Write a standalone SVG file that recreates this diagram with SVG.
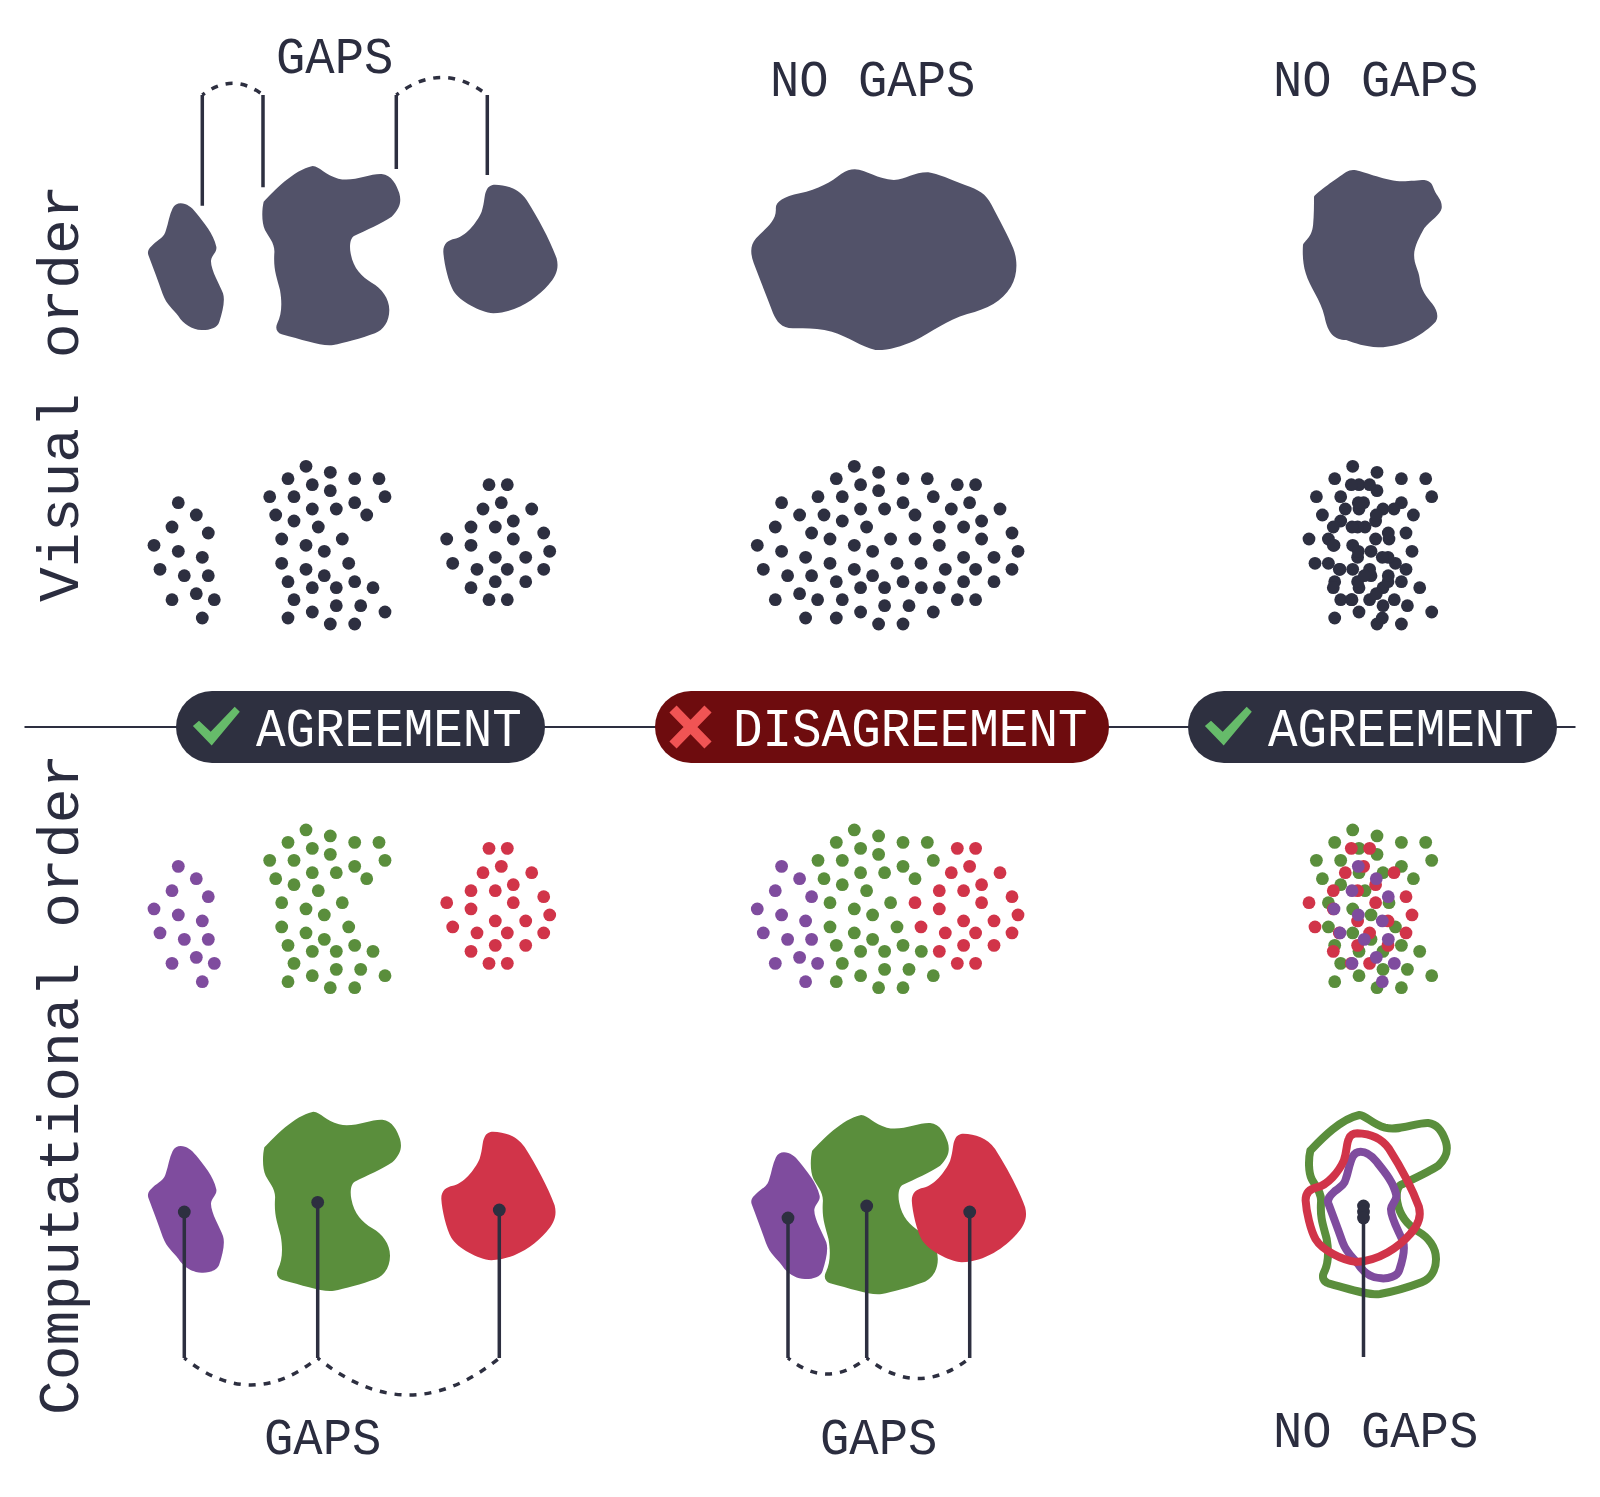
<svg xmlns="http://www.w3.org/2000/svg" width="1600" height="1497" viewBox="0 0 1600 1497">
<style>
text{font-family:"Liberation Mono","DejaVu Sans Mono",monospace;fill:#2b2d3f}
circle{r:6.4px}
.side{font-size:58px}
.lab{font-size:52px}
.pilltext{font-size:54px;fill:#fff}
.dark{fill:#2d2f40}.slate{fill:#525269}
.pur{fill:#7f4c9e}.grn{fill:#5a8e3c}.red{fill:#d13449}
.opur,.ogrn,.ored{fill:none;stroke-width:24}
.opur{stroke:#7f4c9e}.ogrn{stroke:#5a8e3c}.ored{stroke:#d13449}
.stem{stroke:#2d2f40;stroke-width:3.5;fill:none}
.dash{stroke:#2d2f40;stroke-width:3.5;fill:none;stroke-dasharray:7 8;stroke-dashoffset:4}
.axis{stroke:#2d2f40;stroke-width:2}
</style>
<defs>
<path id="blob-a" d="M152 550C170 550 185 562 198 578C222 608 250 640 259 680C262 696 245 705 243 722C242 750 270 795 279 820C286 840 278 875 268 905C262 925 235 931 215 930C185 929 160 912 145 888C130 868 110 855 98 822C85 785 70 745 55 705C50 690 62 680 75 668C92 655 103 650 108 630C115 610 118 585 128 565C133 555 142 550 152 550Z"/>
<path id="blob-b" d="M548 438C570 440 585 465 625 476C670 487 720 460 755 462C785 465 800 495 808 520C815 545 810 565 785 590C755 610 710 630 672 648C660 655 658 680 662 700C670 745 695 770 725 788C755 805 778 835 778 870C778 905 760 930 735 940C695 955 640 970 610 975C575 980 520 960 455 943C440 938 435 925 442 910C455 885 457 850 450 810C440 770 430 750 433 700C436 670 415 650 405 630C395 610 395 570 401 545C430 515 490 450 548 438Z"/>
<path id="blob-c" d="M1095 494C1130 495 1165 505 1190 540C1225 595 1260 660 1280 715C1288 745 1278 770 1255 795C1220 835 1160 878 1090 880C1050 875 990 845 970 812C955 785 942 730 940 695C940 670 955 660 975 656C1005 650 1040 610 1055 575C1065 545 1062 525 1070 510C1075 498 1085 494 1095 494Z"/>
<g id="dots-a">
<circle cx="178.3" cy="502.7"/><circle cx="196.3" cy="515"/><circle cx="172" cy="527"/><circle cx="208.3" cy="533"/><circle cx="154" cy="545.3"/><circle cx="178.3" cy="551.3"/><circle cx="202.3" cy="557.3"/><circle cx="160" cy="569.3"/><circle cx="184.3" cy="575.7"/><circle cx="208.3" cy="575.7"/><circle cx="196.3" cy="593.7"/><circle cx="172" cy="599.7"/><circle cx="214.3" cy="599.7"/><circle cx="202.3" cy="618"/>
</g>
<g id="dots-b">
<circle cx="306" cy="466.3"/><circle cx="330.3" cy="472.3"/><circle cx="288" cy="478.7"/><circle cx="354.7" cy="478.7"/><circle cx="379" cy="478.7"/><circle cx="312.3" cy="484.7"/><circle cx="330.3" cy="490.7"/><circle cx="269.7" cy="496.7"/><circle cx="294" cy="496.7"/><circle cx="385" cy="496.7"/><circle cx="354.7" cy="502.7"/><circle cx="312.3" cy="509"/><circle cx="336.3" cy="509"/><circle cx="275.7" cy="515"/><circle cx="366.7" cy="515"/><circle cx="294" cy="521"/><circle cx="318.3" cy="527"/><circle cx="281.7" cy="539"/><circle cx="342.3" cy="539"/><circle cx="306" cy="545.3"/><circle cx="324.3" cy="551.3"/><circle cx="281.7" cy="563.3"/><circle cx="348.7" cy="563.3"/><circle cx="306" cy="569.3"/><circle cx="324.3" cy="575.7"/><circle cx="288" cy="581.7"/><circle cx="354.7" cy="581.7"/><circle cx="312.3" cy="587.7"/><circle cx="336.3" cy="587.7"/><circle cx="373" cy="587.7"/><circle cx="294" cy="599.7"/><circle cx="336.3" cy="605.7"/><circle cx="360.7" cy="605.7"/><circle cx="312.3" cy="612"/><circle cx="385" cy="612"/><circle cx="288" cy="618"/><circle cx="330.3" cy="624"/><circle cx="354.7" cy="624"/>
</g>
<g id="dots-c">
<circle cx="489" cy="484.7"/><circle cx="507.3" cy="484.7"/><circle cx="501.3" cy="502.7"/><circle cx="483" cy="509"/><circle cx="531.7" cy="509"/><circle cx="513.3" cy="521"/><circle cx="471" cy="527"/><circle cx="495.3" cy="527"/><circle cx="543.7" cy="533"/><circle cx="446.7" cy="539"/><circle cx="513.3" cy="539"/><circle cx="471" cy="545.3"/><circle cx="549.7" cy="551.3"/><circle cx="495.3" cy="557.3"/><circle cx="525.7" cy="557.3"/><circle cx="452.7" cy="563.3"/><circle cx="507.3" cy="569.3"/><circle cx="477" cy="569.3"/><circle cx="543.7" cy="569.3"/><circle cx="495.3" cy="581.7"/><circle cx="525.7" cy="581.7"/><circle cx="471" cy="587.7"/><circle cx="489" cy="599.7"/><circle cx="507.3" cy="599.7"/>
</g>
</defs>
<rect width="1600" height="1497" fill="#fff"/>

<g id="side-labels">
<text class="side" transform="translate(78 602) rotate(-90)">Visual order</text>
<text class="side" transform="translate(78 1415) rotate(-90)">Computational order</text>
</g>

<g id="top-labels">
<text class="lab" x="276" y="73" transform="translate(276 0) scale(.94 1) translate(-276 0)">GAPS</text>
<text class="lab" x="770" y="96.5" transform="translate(770 0) scale(.94 1) translate(-770 0)">NO GAPS</text>
<text class="lab" x="1273" y="96.5" transform="translate(1273 0) scale(.94 1) translate(-1273 0)">NO GAPS</text>
</g>

<g id="shapes-visual">
<use href="#blob-a" class="slate" transform="translate(130 20) scale(.3333)"/>
<use href="#blob-b" class="slate" transform="translate(130 20) scale(.3333)"/>
<use href="#blob-c" class="slate" transform="translate(130 20) scale(.3333)"/>
<path class="slate" transform="translate(740 150) scale(.4592 .3333)" d="M250 58C275 60 300 88 335 90C362 88 380 66 410 67C430 70 460 90 490 105C520 120 535 130 548 165C565 210 585 260 595 295C605 330 605 375 590 410C570 455 540 475 495 492C450 510 420 545 380 572C350 590 320 602 295 600C265 590 235 560 200 545C170 533 140 534 115 535C90 535 80 515 72 490C60 445 45 395 30 340C22 310 22 285 35 265C55 235 80 215 78 175C78 155 95 140 130 130C170 118 200 95 220 72C232 62 240 58 250 58Z"/>
<path class="slate" transform="translate(740 150) scale(.4592 .3333)" d="M1335 60C1350 60 1390 85 1430 93C1450 96 1475 90 1490 90C1505 92 1508 105 1512 120C1518 140 1530 150 1528 175C1525 195 1505 210 1490 235C1480 260 1468 290 1468 315C1468 345 1478 360 1480 385C1482 420 1495 440 1508 462C1518 480 1522 500 1515 515C1490 550 1450 590 1390 592C1360 590 1340 580 1320 570C1295 570 1280 550 1273 500C1265 450 1240 410 1232 370C1225 340 1225 305 1226 285C1230 270 1245 265 1248 225C1250 195 1250 165 1250 140C1255 128 1300 85 1320 66C1325 62 1330 60 1335 60Z"/>
</g>

<g id="dots-visual" class="dark">
<use href="#dots-a"/><use href="#dots-b"/><use href="#dots-c"/>
<use href="#dots-a" x="603.3"/><use href="#dots-b" x="548.3"/><use href="#dots-c" x="468.3"/>
<use href="#dots-b" x="1046.7"/><use href="#dots-c" x="862.3"/><use href="#dots-a" x="1180"/>
</g>

<g id="dots-computational" transform="translate(0 363.67)">
<use href="#dots-a" class="pur"/><use href="#dots-b" class="grn"/><use href="#dots-c" class="red"/>
<use href="#dots-a" class="pur" x="603.3"/><use href="#dots-b" class="grn" x="548.3"/><use href="#dots-c" class="red" x="468.3"/>
<use href="#dots-b" class="grn" x="1046.7"/><use href="#dots-c" class="red" x="862.3"/><use href="#dots-a" class="pur" x="1180"/>
</g>

<g id="shapes-computational">
<use href="#blob-a" class="pur" transform="translate(130 962.7) scale(.3333)"/>
<use href="#blob-b" class="grn" transform="translate(130.7 965.7) scale(.3333)"/>
<use href="#blob-c" class="red" transform="translate(128 967) scale(.3333)"/>
<use href="#blob-b" class="grn" transform="translate(678.5 969) scale(.3333)"/>
<use href="#blob-a" class="pur" transform="translate(733.3 969) scale(.3333)"/>
<use href="#blob-c" class="red" transform="translate(598.5 969) scale(.3333)"/>
<use href="#blob-b" class="ogrn" transform="translate(1176.7 969) scale(.3333)"/>
<use href="#blob-a" class="opur" transform="translate(1310 968.4) scale(.3333)"/>
<use href="#blob-c" class="ored" transform="translate(992.3 968.6) scale(.3333)"/>
</g>

<g id="connectors">
<path class="axis" d="M24.5 727H1575.5"/>
<path class="stem" d="M202.3 95V205.7M263 95V187.3M396.3 95V169M487.3 95V175"/>
<path class="dash" d="M202.3 95Q232.6 71.6 263 95"/>
<path class="dash" d="M396.3 95Q441.8 60 487.3 95"/>
<path class="stem" d="M184.3 1212V1358M317.7 1202V1358M499.3 1210V1358M788 1218V1358M866.7 1206V1358M969.7 1212V1358M1363.5 1212V1357"/>
<path class="dash" d="M184.3 1358Q251 1412 317.7 1358"/>
<path class="dash" d="M317.7 1358Q408.5 1432 499.3 1358"/>
<path class="dash" d="M788 1358Q827.3 1390 866.7 1358"/>
<path class="dash" d="M866.7 1358Q918 1399 969.7 1358"/>
</g>

<g id="pins" class="dark">
<circle cx="184.3" cy="1212"/><circle cx="317.7" cy="1202.3"/><circle cx="499.3" cy="1210"/>
<circle cx="788" cy="1218"/><circle cx="866.7" cy="1206"/><circle cx="969.7" cy="1212"/>
<circle cx="1363.5" cy="1206"/><circle cx="1363.5" cy="1212"/><circle cx="1363.5" cy="1218"/>
</g>

<g id="pill-left">
<rect x="176" y="691" width="369" height="72" rx="36" fill="#2e3040"/>
<polygon points="192.9,726 211.7,745.5 239.8,711.7 234.7,706.7 210.7,731.8 199,720.7" fill="#66bb6a"/>
<text class="pilltext" x="256" y="746" transform="translate(256 0) scale(.912 1) translate(-256 0)">AGREEMENT</text>
</g>
<g id="pill-middle">
<rect x="655" y="691" width="454" height="72" rx="36" fill="#6e0c0e"/>
<path d="M673 709L708 745M708 709L673 745" stroke="#f05454" stroke-width="10" fill="none"/>
<text class="pilltext" x="733" y="746" transform="translate(733 0) scale(.912 1) translate(-733 0)">DISAGREEMENT</text>
</g>
<g id="pill-right">
<rect x="1188" y="691" width="369" height="72" rx="36" fill="#2e3040"/>
<polygon points="1204.9,726 1223.7,745.5 1251.8,711.7 1246.7,706.7 1222.7,731.8 1211,720.7" fill="#66bb6a"/>
<text class="pilltext" x="1268" y="746" transform="translate(1268 0) scale(.912 1) translate(-1268 0)">AGREEMENT</text>
</g>

<g id="bottom-labels">
<text class="lab" x="264" y="1454" transform="translate(264 0) scale(.94 1) translate(-264 0)">GAPS</text>
<text class="lab" x="820" y="1454" transform="translate(820 0) scale(.94 1) translate(-820 0)">GAPS</text>
<text class="lab" x="1273" y="1447" transform="translate(1273 0) scale(.94 1) translate(-1273 0)">NO GAPS</text>
</g>
</svg>
